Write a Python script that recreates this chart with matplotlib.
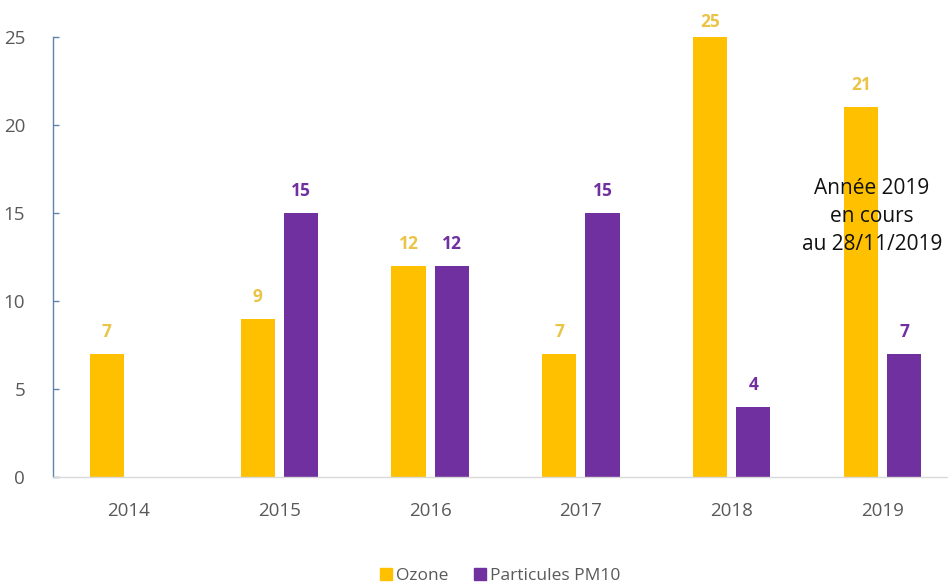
import matplotlib
matplotlib.use("Agg")
import matplotlib.pyplot as plt
import numpy as np
from matplotlib.patches import Patch

years = ["2014", "2015", "2016", "2017", "2018", "2019"]
ozone = [7, 9, 12, 7, 25, 21]
pm10 = [None, 15, 12, 15, 4, 7]
series_names = ["Ozone", "Particules PM10"]
y_ticks = [0, 5, 10, 15, 20, 25]
note = "Année 2019\nen cours\nau 28/11/2019"

c_oz = "#FFC000"
c_pm = "#7030A0"
c_oz_lbl = "#EAC446"
c_txt = "#595959"

plt.rcParams['font.family'] = ['Open Sans', 'DejaVu Sans']

fig = plt.figure(figsize=(9.48, 5.83), dpi=100)
ax = fig.add_axes([53/948, 106/583, 905/948, 440/583])

x = np.arange(len(years))
w = 0.227
off = 0.143

oz_vals = np.array(ozone, dtype=float)
pm_vals = np.array([np.nan if v is None else v for v in pm10], dtype=float)

ax.bar(x - off, oz_vals, width=w, color=c_oz, zorder=2)
ax.bar(x + off, pm_vals, width=w, color=c_pm, zorder=2)

def lbl_y(v):
    return min(v + 1.25, 25.85)

for i in range(len(years)):
    ax.text(x[i] - off, lbl_y(oz_vals[i]), f"{int(oz_vals[i])}", ha='center', va='center',
            color=c_oz_lbl, fontsize=12.5, fontweight='bold', clip_on=False)
    if not np.isnan(pm_vals[i]):
        ax.text(x[i] + off, lbl_y(pm_vals[i]), f"{int(pm_vals[i])}", ha='center', va='center',
                color=c_pm, fontsize=12.5, fontweight='bold', clip_on=False)

ax.text(4.93, 14.8, note, ha='center', va='center', fontsize=15, color='#111111',
        linespacing=1.45, zorder=3)

ax.set_xlim(-0.5, len(years) - 0.5)
ax.set_ylim(0, 25)
ax.set_yticks(y_ticks)
ax.set_yticklabels([str(t) for t in y_ticks])
ax.set_xticks(x)
ax.set_xticklabels(years)

for s in ['top', 'right']:
    ax.spines[s].set_visible(False)
ax.spines['left'].set_color('#5F83AD')
ax.spines['left'].set_linewidth(1.0)
ax.spines['bottom'].set_color('#D9D9D9')
ax.spines['bottom'].set_linewidth(1.0)

ax.tick_params(axis='y', direction='in', length=4, width=1, color='#5F83AD',
               labelsize=13.5, labelcolor=c_txt, pad=20)
ax.tick_params(axis='x', length=0, labelsize=13.5, labelcolor=c_txt, pad=18)

handles = [Patch(color=c_oz), Patch(color=c_pm)]
fig.legend(handles, series_names, loc='center', bbox_to_anchor=(500/948, 1 - 576/583),
           ncol=2, frameon=False, fontsize=12.5, labelcolor=c_txt,
           handlelength=0.7, handleheight=0.7, handletextpad=0.2, columnspacing=1.5)

fig.savefig("out.png", dpi=100)
